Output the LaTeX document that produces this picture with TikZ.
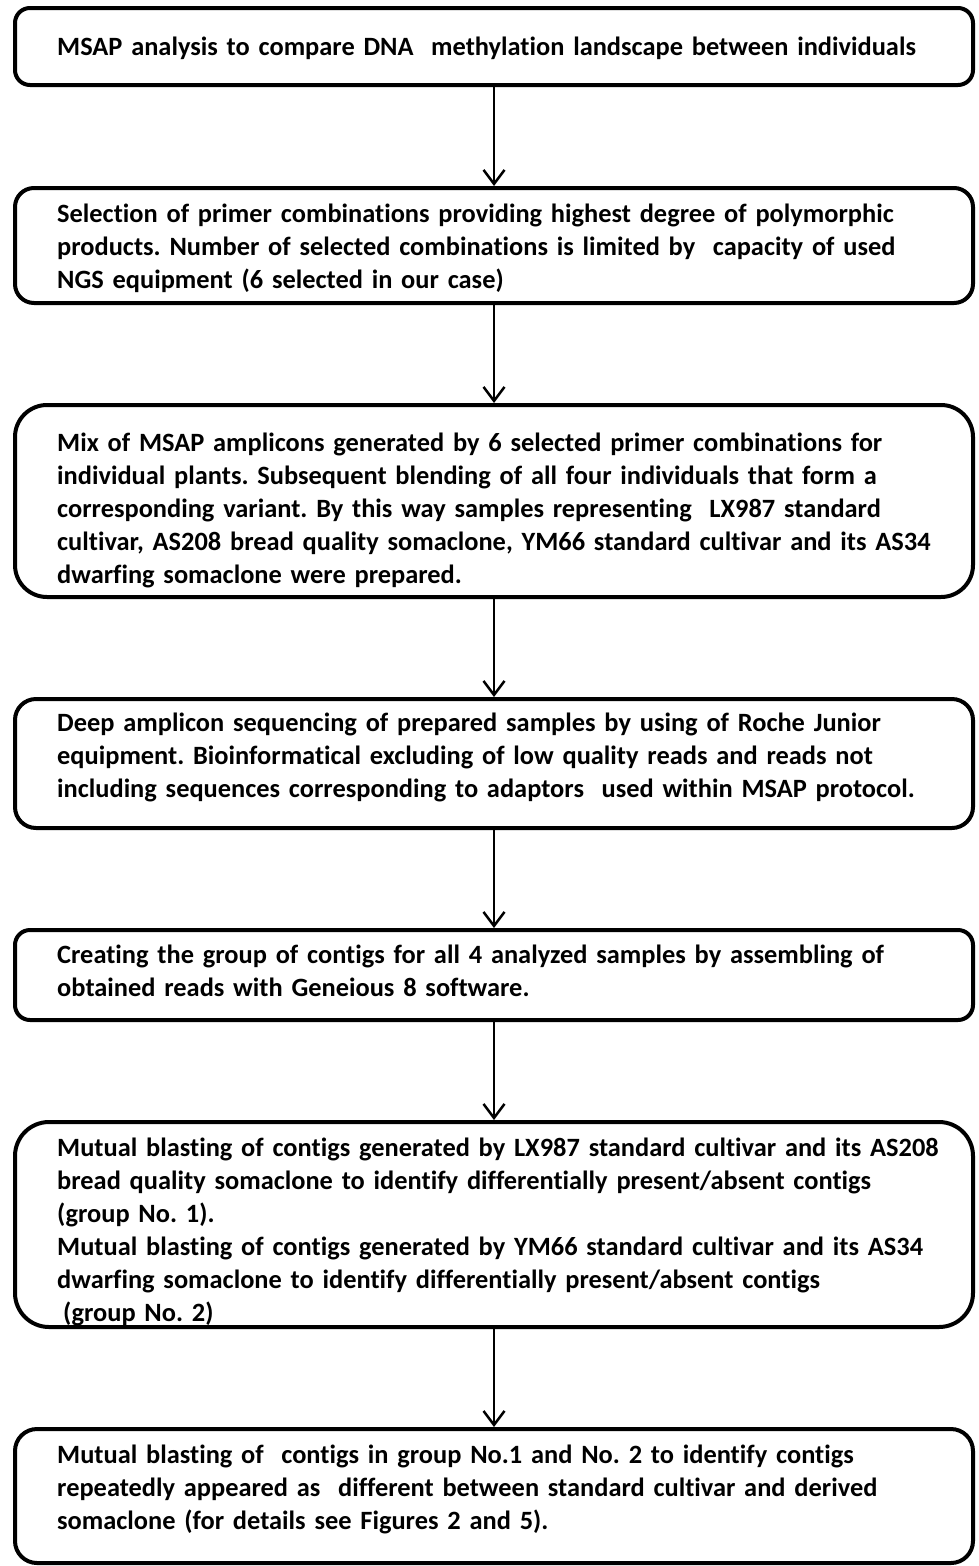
\documentclass[tikz,border=0pt]{standalone}
\usepackage{fontspec}
\setmainfont{Carlito}[Ligatures=NoCommon]
\usetikzlibrary{arrows.meta}

\begin{document}
\frenchspacing
\begin{tikzpicture}[x=1pt, y=-1pt,
		stagebox/.style={draw, line width=4pt, minimum width=958pt, inner sep=0pt},
		stagetext/.style={anchor=north west, inner sep=0pt, text width=915pt, align=left,
			font=\fontsize{26.4}{33}\selectfont\bfseries},
		flowarrow/.style={-{Straight Barb[length=14pt, width=21pt]}, line width=2.5pt}]
		\useasboundingbox (0,0) rectangle (979,1566);
		% stage boxes
		\node[stagebox, minimum height=77pt, rounded corners=15pt] (b1) at (494,46.5) {};
		\node[stagebox, minimum height=115pt, rounded corners=19pt] (b2) at (494,245.5) {};
		\node[stagebox, minimum height=192pt, rounded corners=32pt] (b3) at (494,501) {};
		\node[stagebox, minimum height=129pt, rounded corners=21pt] (b4) at (494,763.5) {};
		\node[stagebox, minimum height=90pt, rounded corners=15pt] (b5) at (494,975) {};
		\node[stagebox, minimum height=205pt, rounded corners=34pt] (b6) at (494,1224.5) {};
		\node[stagebox, minimum height=134pt, rounded corners=22pt] (b7) at (494,1496) {};
		% texts of the stages
		\node[stagetext] (t1) at (57,32.4) {\strut MSAP analysis to compare DNA~ methylation landscape between individuals};
		\node[stagetext] (t2) at (57,199.4) {\strut Selection of primer combinations providing highest degree of polymorphic\\
			products. Number of selected combinations is limited by~ capacity of used\\
			NGS equipment (6 selected in our case)};
		\node[stagetext] (t3) at (57,428.4) {\strut Mix of MSAP amplicons generated by 6 selected primer combinations for\\
			individual plants. Subsequent blending of all four individuals that form a\\
			corresponding variant. By this way samples representing~ LX987 standard\\
			cultivar, AS208 bread quality somaclone, YM66 standard cultivar and its AS34\\
			dwarfing somaclone were prepared.};
		\node[stagetext] (t4) at (57,708.4) {\strut Deep amplicon sequencing of prepared samples by using of Roche Junior\\
			equipment. Bioinformatical excluding of low quality reads and reads not\\
			including sequences corresponding to adaptors~ used within MSAP protocol.};
		\node[stagetext] (t5) at (57,940.4) {\strut Creating the group of contigs for all 4 analyzed samples by assembling of\\
			obtained reads with Geneious 8 software.};
		\node[stagetext] (t6) at (57,1133.4) {\strut Mutual blasting of contigs generated by LX987 standard cultivar and its AS208\\
			bread quality somaclone to identify differentially present/absent contigs\\
			(group No. 1).\\
			Mutual blasting of contigs generated by YM66 standard cultivar and its AS34\\
			dwarfing somaclone to identify differentially present/absent contigs\\
			\hspace*{6pt}(group No. 2)};
		\node[stagetext] (t7) at (57,1440.4) {\strut Mutual blasting of~ contigs in group No.1 and No. 2 to identify contigs\\
			repeatedly appeared as~ different between standard cultivar and derived\\
			somaclone (for details see Figures 2 and 5).};
		% arrows between stages
		\foreach \i/\j in {1/2,2/3,3/4,4/5,5/6,6/7}
		{
			\draw[flowarrow] (b\i.south) -- (b\j.north);
		}
	\end{tikzpicture}
\end{document}
